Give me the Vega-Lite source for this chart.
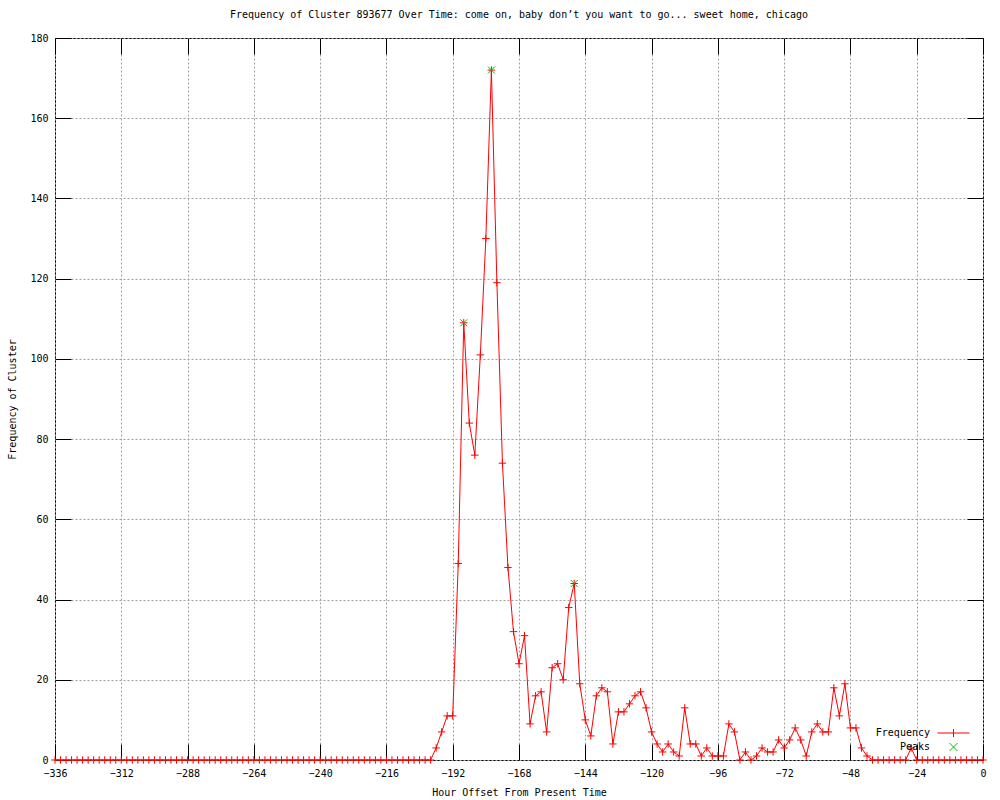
{
  "$schema": "https://vega.github.io/schema/vega-lite/v6.json",
  "width": 928,
  "height": 722,
  "autosize": {"type": "none"},
  "padding": {"left": 55, "top": 38, "right": 17, "bottom": 40},
  "background": "white",
  "title": {"text": "Frequency of Cluster 893677 Over Time: come on, baby don’t you want to go... sweet home, chicago", "font": "DejaVu Sans Mono", "fontSize": 10, "fontWeight": "normal", "color": "black", "offset": 13, "anchor": "middle"},
  "config": {
    "view": {"stroke": "black", "strokeWidth": 1},
    "font": "DejaVu Sans Mono",
    "axis": {"labelFont": "DejaVu Sans Mono", "labelFontSize": 10, "labelColor": "black", "titleFont": "DejaVu Sans Mono", "titleFontSize": 10, "titleFontWeight": "normal", "titleColor": "black", "domain": false, "tickColor": "black", "tickWidth": 1, "tickSize": -16, "labelFlush": false, "labelOverlap": false, "gridColor": "#a0a0a0", "gridDash": [2, 2], "gridWidth": 1, "gridOpacity": 1}
  },
  "datasets": {
    "freq": [
      {"h": -336, "f": 0}, {"h": -334, "f": 0}, {"h": -332, "f": 0}, {"h": -330, "f": 0}, {"h": -328, "f": 0}, {"h": -326, "f": 0}, {"h": -324, "f": 0}, {"h": -322, "f": 0}, {"h": -320, "f": 0}, {"h": -318, "f": 0}, {"h": -316, "f": 0}, {"h": -314, "f": 0},
      {"h": -312, "f": 0}, {"h": -310, "f": 0}, {"h": -308, "f": 0}, {"h": -306, "f": 0}, {"h": -304, "f": 0}, {"h": -302, "f": 0}, {"h": -300, "f": 0}, {"h": -298, "f": 0}, {"h": -296, "f": 0}, {"h": -294, "f": 0}, {"h": -292, "f": 0}, {"h": -290, "f": 0},
      {"h": -288, "f": 0}, {"h": -286, "f": 0}, {"h": -284, "f": 0}, {"h": -282, "f": 0}, {"h": -280, "f": 0}, {"h": -278, "f": 0}, {"h": -276, "f": 0}, {"h": -274, "f": 0}, {"h": -272, "f": 0}, {"h": -270, "f": 0}, {"h": -268, "f": 0}, {"h": -266, "f": 0},
      {"h": -264, "f": 0}, {"h": -262, "f": 0}, {"h": -260, "f": 0}, {"h": -258, "f": 0}, {"h": -256, "f": 0}, {"h": -254, "f": 0}, {"h": -252, "f": 0}, {"h": -250, "f": 0}, {"h": -248, "f": 0}, {"h": -246, "f": 0}, {"h": -244, "f": 0}, {"h": -242, "f": 0},
      {"h": -240, "f": 0}, {"h": -238, "f": 0}, {"h": -236, "f": 0}, {"h": -234, "f": 0}, {"h": -232, "f": 0}, {"h": -230, "f": 0}, {"h": -228, "f": 0}, {"h": -226, "f": 0}, {"h": -224, "f": 0}, {"h": -222, "f": 0}, {"h": -220, "f": 0}, {"h": -218, "f": 0},
      {"h": -216, "f": 0}, {"h": -214, "f": 0}, {"h": -212, "f": 0}, {"h": -210, "f": 0}, {"h": -208, "f": 0}, {"h": -206, "f": 0}, {"h": -204, "f": 0}, {"h": -202, "f": 0}, {"h": -200, "f": 0}, {"h": -198, "f": 3}, {"h": -196, "f": 7}, {"h": -194, "f": 11},
      {"h": -192, "f": 11}, {"h": -190, "f": 49}, {"h": -188, "f": 109}, {"h": -186, "f": 84}, {"h": -184, "f": 76}, {"h": -182, "f": 101}, {"h": -180, "f": 130}, {"h": -178, "f": 172}, {"h": -176, "f": 119}, {"h": -174, "f": 74}, {"h": -172, "f": 48}, {"h": -170, "f": 32},
      {"h": -168, "f": 24}, {"h": -166, "f": 31}, {"h": -164, "f": 9}, {"h": -162, "f": 16}, {"h": -160, "f": 17}, {"h": -158, "f": 7}, {"h": -156, "f": 23}, {"h": -154, "f": 24}, {"h": -152, "f": 20}, {"h": -150, "f": 38}, {"h": -148, "f": 44}, {"h": -146, "f": 19},
      {"h": -144, "f": 10}, {"h": -142, "f": 6}, {"h": -140, "f": 16}, {"h": -138, "f": 18}, {"h": -136, "f": 17}, {"h": -134, "f": 4}, {"h": -132, "f": 12}, {"h": -130, "f": 12}, {"h": -128, "f": 14}, {"h": -126, "f": 16}, {"h": -124, "f": 17}, {"h": -122, "f": 13},
      {"h": -120, "f": 7}, {"h": -118, "f": 4}, {"h": -116, "f": 2}, {"h": -114, "f": 4}, {"h": -112, "f": 2}, {"h": -110, "f": 1}, {"h": -108, "f": 13}, {"h": -106, "f": 4}, {"h": -104, "f": 4}, {"h": -102, "f": 1}, {"h": -100, "f": 3}, {"h": -98, "f": 1},
      {"h": -96, "f": 1}, {"h": -94, "f": 1}, {"h": -92, "f": 9}, {"h": -90, "f": 7}, {"h": -88, "f": 0}, {"h": -86, "f": 2}, {"h": -84, "f": 0}, {"h": -82, "f": 1}, {"h": -80, "f": 3}, {"h": -78, "f": 2}, {"h": -76, "f": 2}, {"h": -74, "f": 5},
      {"h": -72, "f": 3}, {"h": -70, "f": 5}, {"h": -68, "f": 8}, {"h": -66, "f": 5}, {"h": -64, "f": 1}, {"h": -62, "f": 7}, {"h": -60, "f": 9}, {"h": -58, "f": 7}, {"h": -56, "f": 7}, {"h": -54, "f": 18}, {"h": -52, "f": 11}, {"h": -50, "f": 19},
      {"h": -48, "f": 8}, {"h": -46, "f": 8}, {"h": -44, "f": 3}, {"h": -42, "f": 1}, {"h": -40, "f": 0}, {"h": -38, "f": 0}, {"h": -36, "f": 0}, {"h": -34, "f": 0}, {"h": -32, "f": 0}, {"h": -30, "f": 0}, {"h": -28, "f": 0}, {"h": -26, "f": 3},
      {"h": -24, "f": 0}, {"h": -22, "f": 0}, {"h": -20, "f": 0}, {"h": -18, "f": 0}, {"h": -16, "f": 0}, {"h": -14, "f": 0}, {"h": -12, "f": 0}, {"h": -10, "f": 0}, {"h": -8, "f": 0}, {"h": -6, "f": 0}, {"h": -4, "f": 0}, {"h": -2, "f": 0},
      {"h": 0, "f": 0}
    ],
    "peaks": [
      {"h": -188, "f": 109},
      {"h": -178, "f": 172},
      {"h": -148, "f": 44}
    ]
  },
  "layer": [
    {
      "data": {"name": "freq"},
      "mark": {"type": "line", "strokeWidth": 1, "interpolate": "linear"},
      "encoding": {
        "x": {"field": "h", "type": "quantitative", "scale": {"domain": [-336, 0], "nice": false, "zero": false},
          "axis": {"orient": "bottom", "values": [-336, -312, -288, -264, -240, -216, -192, -168, -144, -120, -96, -72, -48, -24, 0], "title": "Hour Offset From Present Time", "grid": true, "labelPadding": 24, "titlePadding": 9}},
        "y": {"field": "f", "type": "quantitative", "scale": {"domain": [0, 180], "nice": false},
          "axis": {"orient": "left", "values": [0, 20, 40, 60, 80, 100, 120, 140, 160, 180], "title": "Frequency of Cluster", "grid": true, "labelPadding": 23, "titlePadding": 12}},
        "color": {"datum": "Frequency", "type": "nominal", "scale": {"domain": ["Frequency", "Peaks"], "range": ["#ff0000", "#00c000"]},
          "legend": {"title": null, "orient": "none", "legendX": 882, "legendY": 689, "padding": 0, "rowPadding": 2, "labelAlign": "right", "labelBaseline": "middle", "labelOffset": -40, "labelFont": "DejaVu Sans Mono", "labelFontSize": 10, "labelColor": "black", "symbolSize": 1024, "symbolStrokeWidth": 1,
            "encode": {
              "symbols": {"update": {"y": {"value": 6}, "shape": {"signal": "datum.value === 'Frequency' ? 'M-1,0H1M0,-0.25V0.25' : 'M-0.25,-0.25L0.25,0.25M-0.25,0.25L0.25,-0.25'"}, "size": {"value": 1024}, "fill": {"value": "transparent"}, "stroke": {"signal": "datum.value === 'Frequency' ? '#ff0000' : '#00c000'"}, "strokeWidth": {"value": 1}, "opacity": {"value": 1}}},
              "labels": {"update": {"y": {"value": 6}}}
            }}}
      }
    },
    {
      "data": {"name": "freq"},
      "mark": {"type": "point", "shape": "M-1,0H1M0,-1V1", "size": 56, "filled": false, "stroke": "#ff0000", "strokeWidth": 1, "opacity": 1},
      "encoding": {
        "x": {"field": "h", "type": "quantitative", "axis": {"orient": "top", "values": [-336, -312, -288, -264, -240, -216, -192, -168, -144, -120, -96, -72, -48, -24, 0], "labels": false, "title": null, "grid": false}},
        "y": {"field": "f", "type": "quantitative", "axis": {"orient": "right", "values": [0, 20, 40, 60, 80, 100, 120, 140, 160, 180], "labels": false, "title": null, "grid": false}}
      }
    },
    {
      "data": {"name": "peaks"},
      "mark": {"type": "point", "shape": "M-1,-1L1,1M-1,1L1,-1", "size": 49, "filled": false, "strokeWidth": 1, "opacity": 1},
      "encoding": {
        "x": {"field": "h", "type": "quantitative", "axis": null},
        "y": {"field": "f", "type": "quantitative", "axis": null},
        "color": {"datum": "Peaks", "type": "nominal"}
      }
    }
  ],
  "resolve": {"axis": {"x": "independent", "y": "independent"}}
}
